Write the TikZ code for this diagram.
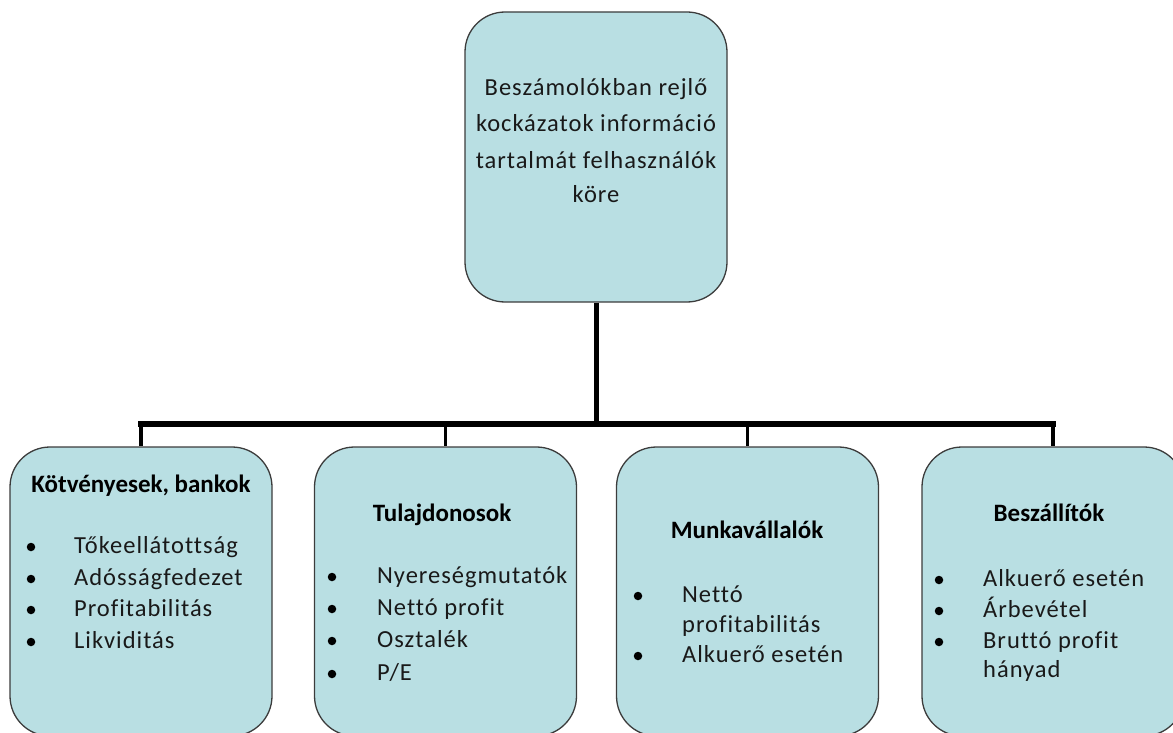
\documentclass[tikz,border=0pt]{standalone}
\usepackage{fontspec}
\setmainfont[Ligatures=NoCommon]{Carlito}
\newfontfamily\regf[LetterSpace=4,Ligatures=NoCommon]{Carlito}
\definecolor{boxfill}{RGB}{185,223,227}
\definecolor{boxline}{RGB}{60,60,60}
\definecolor{txtcol}{RGB}{25,25,25}
\tikzset{
  box/.style={draw=boxline, line width=1.3pt, fill=boxfill, rounded corners=40pt,
    minimum width=262pt, inner sep=0pt},
  txt/.style={inner sep=0pt, anchor=base, text=txtcol, font=\regf\fontsize{24.5}{30}\selectfont},
  ttl/.style={inner sep=0pt, anchor=base, text=black, font=\fontsize{25}{30}\selectfont\bfseries},
  item/.style={txt, anchor=base west},
  bul/.style={circle, fill=black, inner sep=0pt, minimum size=8.5pt},
  trunk/.style={line width=5pt, black},
  bar/.style={line width=6pt, black, line cap=rect},
  drop/.style={line width=3.5pt, black}
}
\begin{document}
\begin{tikzpicture}[x=1pt,y=-1pt]
\useasboundingbox (0,0) rectangle (1173,733);
\clip (0,0) rectangle (1173,733);
% top box
\node[box, minimum height=290pt] (top) at (596,157) {};
\node[txt] (t1) at (596,96) {Beszámolókban rejlő};
\node[txt] (t2) at (596,132) {kockázatok információ};
\node[txt] (t3) at (596,168) {tartalmát felhasználók};
\node[txt] (t4) at (596,202) {köre};
% bottom boxes
\node[box, minimum height=289pt] (b1) at (141,591.5) {};
\node[box, minimum height=289pt] (b2) at (445.5,591.5) {};
\node[box, minimum height=289pt] (b3) at (747.5,591.5) {};
\node[box, minimum height=289pt] (b4) at (1053,591.5) {};
% connectors
\coordinate (j) at (596,424);
\draw[trunk] (top.south) -- (j);
\draw[bar] (b1.north |- j) -- (b4.north |- j);
\draw[drop] (b1.north |- j) -- (b1.north);
\draw[drop] (b2.north |- j) -- (b2.north);
\draw[drop] (b3.north |- j) -- (b3.north);
\draw[drop] (b4.north |- j) -- (b4.north);
% box 1
\node[ttl] (h1) at (141,492) {Kötvényesek, bankok};
\node[bul] (p11) at (31,547) {};
\node[item] (i11) at (74,553) {Tőkeellátottság};
\node[bul] (p12) at (31,579) {};
\node[item] (i12) at (74,585) {Adósságfedezet};
\node[bul] (p13) at (31,610) {};
\node[item] (i13) at (74,616) {Profitabilitás};
\node[bul] (p14) at (31,642) {};
\node[item] (i14) at (74,648) {Likviditás};
% box 2
\node[ttl] (h2) at (442,521) {Tulajdonosok};
\node[bul] (p21) at (332,577) {};
\node[item] (i21) at (377,583) {Nyereségmutatók};
\node[bul] (p22) at (332,609) {};
\node[item] (i22) at (377,615) {Nettó profit};
\node[bul] (p23) at (332,641) {};
\node[item] (i23) at (377,647) {Osztalék};
\node[bul] (p24) at (332,674) {};
\node[item] (i24) at (377,680) {P/E};
% box 3
\node[ttl] (h3) at (747,538) {Munkavállalók};
\node[bul] (p31) at (638,596) {};
\node[item] (i31) at (682,602) {Nettó};
\node[item] (i31b) at (682,632) {profitabilitás};
\node[bul] (p32) at (638,656) {};
\node[item] (i32) at (682,662) {Alkuerő esetén};
% box 4
\node[ttl] (h4) at (1049,521) {Beszállítók};
\node[bul] (p41) at (939,580) {};
\node[item] (i41) at (983,586) {Alkuerő esetén};
\node[bul] (p42) at (939,611) {};
\node[item] (i42) at (983,617) {Árbevétel};
\node[bul] (p43) at (939,642) {};
\node[item] (i43) at (983,648) {Bruttó profit};
\node[item] (i43b) at (983,677) {hányad};
\end{tikzpicture}
\end{document}
